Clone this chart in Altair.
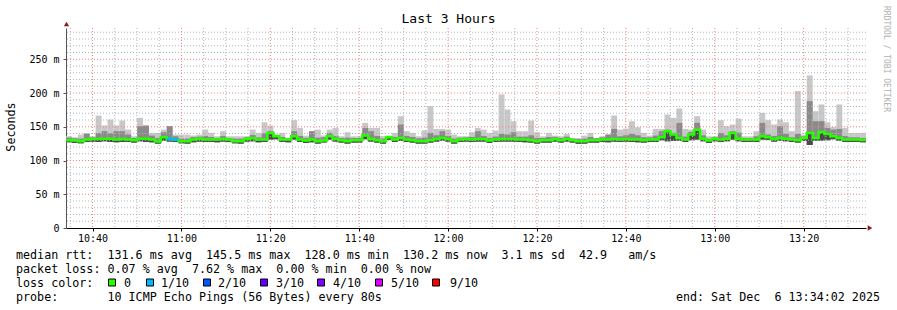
import altair as alt
import pandas as pd

# ---------------- data (ms), one value per 80 s step ----------------
START = 634 + 2 / 60          # 10:34:02 as minutes of day
SPAN = 180                    # 3 hours
STEP = 80 / 60                # 80 s

median = [
    130.0, 129.5, 128.5, 131.0, 131.9, 131.9, 132.4, 132.4, 131.0, 131.9,
    131.0, 130.0, 132.4, 132.4, 131.0, 128.0, 134.4, 131.9, 131.0, 128.5,
    128.5, 131.0, 132.4, 131.0, 131.0, 131.0, 131.9, 131.0, 128.5, 128.5,
    131.9, 132.9, 131.0, 131.0, 140.9, 135.9, 131.0, 131.0, 135.9, 131.0,
    129.5, 131.0, 128.5, 129.5, 135.9, 131.9, 130.0, 128.5, 130.0, 130.0,
    136.9, 131.9, 130.0, 128.5, 134.4, 131.0, 133.4, 131.0, 130.0, 128.5,
    128.5, 130.0, 131.9, 133.4, 131.9, 128.5, 131.0, 131.9, 131.0, 131.9,
    131.9, 129.5, 131.0, 131.9, 131.9, 131.9, 131.0, 131.0, 130.0, 128.5,
    130.0, 130.0, 131.9, 130.0, 131.9, 130.0, 128.5, 128.5, 130.0, 130.0,
    131.0, 131.0, 131.9, 131.0, 131.9, 131.0, 131.0, 130.0, 131.0, 131.0,
    134.4, 143.4, 138.4, 133.4, 131.0, 138.4, 145.5, 132.4, 129.5, 132.4,
    131.0, 132.4, 140.9, 132.4, 131.0, 131.0, 131.0, 135.9, 134.4, 131.9,
    133.4, 132.4, 131.0, 130.0, 133.4, 140.9, 133.4, 142.4, 139.4, 135.9,
    133.4, 131.0, 131.0, 131.0, 130.2]

ping_max = [
    135.9, 134.4, 138.4, 139.9, 135.9, 166.7, 151.8, 160.7, 151.8, 159.2,
    145.8, 135.9, 163.2, 151.8, 140.9, 140.9, 145.8, 150.8, 138.4, 138.4,
    138.4, 136.9, 138.4, 145.8, 140.9, 135.9, 143.4, 135.9, 135.9, 135.9,
    135.9, 145.8, 140.9, 156.7, 151.8, 138.4, 140.9, 133.4, 159.7, 148.3,
    136.9, 143.4, 145.8, 136.9, 145.8, 148.3, 135.9, 141.9, 135.9, 135.9,
    155.8, 148.3, 148.3, 135.9, 136.9, 140.9, 165.7, 143.4, 140.9, 135.9,
    144.8, 180.6, 146.8, 146.8, 145.8, 138.4, 135.9, 135.9, 141.9, 148.3,
    145.8, 140.9, 144.3, 197.9, 175.6, 158.2, 143.4, 143.4, 159.2, 141.9,
    135.9, 140.9, 136.9, 135.9, 139.4, 133.4, 133.4, 136.9, 140.9, 133.4,
    135.9, 138.4, 166.7, 145.8, 147.3, 158.2, 149.3, 140.9, 136.9, 146.8,
    146.8, 168.2, 163.2, 177.1, 146.8, 145.8, 165.7, 145.8, 135.9, 135.9,
    159.7, 150.8, 153.3, 162.2, 135.9, 135.9, 143.4, 170.6, 159.7, 153.3,
    160.7, 156.7, 143.4, 202.9, 138.4, 226.2, 173.1, 183.0, 156.7, 149.8,
    183.0, 148.3, 140.9, 140.9, 140.9]

ping_upper = [
    133.9, 132.9, 132.4, 139.9, 134.4, 140.9, 143.4, 140.4, 143.4, 143.4,
    138.4, 133.4, 150.8, 151.8, 136.9, 133.4, 141.9, 150.8, 135.9, 132.4,
    132.4, 134.9, 135.4, 136.4, 134.9, 133.4, 136.4, 133.4, 132.4, 132.4,
    134.4, 137.9, 134.4, 140.4, 143.4, 137.4, 134.9, 132.4, 143.4, 136.4,
    133.4, 143.4, 133.9, 134.4, 140.9, 136.4, 133.4, 133.9, 133.4, 133.4,
    148.3, 143.4, 136.4, 132.4, 136.4, 134.9, 153.3, 136.4, 134.9, 132.9,
    133.9, 140.9, 137.4, 143.4, 136.4, 132.4, 133.9, 134.4, 134.9, 143.4,
    136.4, 133.4, 135.4, 139.4, 138.4, 141.9, 135.4, 135.4, 137.4, 133.4,
    133.4, 134.9, 134.9, 133.4, 135.4, 132.4, 131.9, 132.4, 134.9, 132.9,
    134.4, 138.4, 146.8, 135.9, 137.4, 139.4, 137.4, 134.4, 134.4, 136.9,
    143.4, 145.8, 140.9, 155.8, 135.4, 142.4, 155.8, 137.4, 132.4, 134.4,
    140.9, 137.4, 143.4, 141.4, 133.4, 133.4, 135.9, 155.8, 138.4, 136.4,
    150.8, 139.4, 134.4, 139.4, 135.9, 188.0, 158.2, 158.2, 148.0, 145.8,
    146.8, 136.4, 134.4, 134.4, 133.4]

ping_min = [
    127.0, 126.0, 125.5, 127.5, 128.0, 127.5, 128.5, 127.5, 127.0, 127.5,
    127.5, 126.5, 128.5, 127.5, 127.0, 125.0, 129.5, 128.0, 127.5, 125.5,
    125.0, 127.0, 128.0, 127.5, 127.5, 127.0, 128.0, 127.5, 125.5, 125.0,
    128.0, 128.5, 127.0, 127.5, 131.0, 131.5, 127.5, 127.0, 131.0, 127.5,
    126.0, 127.0, 125.0, 126.5, 131.0, 128.0, 126.5, 125.0, 126.5, 126.5,
    131.5, 128.0, 126.5, 125.0, 130.5, 127.5, 129.0, 127.5, 126.5, 125.0,
    125.0, 126.5, 128.0, 129.5, 128.0, 125.0, 127.5, 128.0, 127.5, 128.0,
    128.0, 126.0, 127.5, 128.0, 128.0, 128.0, 127.5, 127.0, 126.5, 125.0,
    126.5, 126.5, 128.0, 126.5, 128.0, 126.5, 125.0, 125.0, 126.5, 126.5,
    127.5, 127.0, 128.0, 127.5, 128.0, 127.5, 127.0, 126.5, 127.5, 127.5,
    130.0, 128.5, 129.0, 129.5, 127.5, 130.0, 131.0, 128.5, 126.0, 128.5,
    127.5, 128.5, 131.0, 128.5, 127.5, 127.5, 127.5, 131.0, 130.5, 128.0,
    129.5, 128.5, 127.5, 126.5, 129.0, 123.0, 129.5, 129.5, 130.0, 131.5,
    129.5, 127.5, 127.5, 127.5, 127.0]

loss_steps = [17, 18]          # steps with 1/10 packet loss

legend_labels = ["0", "1/10", "2/10", "3/10", "4/10", "5/10", "9/10"]
legend_colors = ["#26ff00", "#00b8ff", "#0059ff", "#5e00ff", "#7e00ff", "#dd00ff", "#ff0000"]

y_ticks = [0, 50, 100, 150, 200, 250]
y_minor = [v for v in range(10, 300, 10) if v % 50]
y_major = [50, 100, 150, 200, 250]
x_major = [640, 660, 680, 700, 720, 740, 760, 780, 800]
x_minor = [v for v in range(635, 815, 5) if v % 20]

# ---------------- layout ----------------
W, H = 800, 200
PADL, PADT = 66, 28
FONT = "DejaVu Sans Mono"
Y_DOMAIN = [0, 296.3]
X_DOMAIN = [START, START + SPAN]

n = len(median)
df = pd.DataFrame({
    "t0": [START + i * STEP for i in range(n)],
    "t1": [START + (i + 1) * STEP for i in range(n)],
    "med": median, "mx": ping_max, "up": ping_upper, "mn": ping_min,
})
line_df = pd.DataFrame({"t": list(df["t0"]) + [START + n * STEP],
                        "med": median + [median[-1]]})
blue_df = pd.DataFrame({
    "t": [START + i * STEP for i in loss_steps] + [START + (loss_steps[-1] + 1) * STEP],
    "med": [median[i] for i in loss_steps] + [median[loss_steps[-1]]],
})

xs = alt.Scale(domain=X_DOMAIN, nice=False, zero=False)
ys = alt.Scale(domain=Y_DOMAIN, nice=False, zero=False)

x_axis = alt.Axis(values=x_major, title=None, grid=False,
                  labelExpr="floor(datum.value/60) + ':' + (datum.value % 60 < 10 ? '0' : '') + (datum.value % 60)",
                  labelFont=FONT, labelFontSize=10, labelColor="#000000",
                  domainColor="#000000", tickColor="#000000", tickSize=3, labelPadding=2,
                  labelFlush=False, labelOverlap=False)
y_axis = alt.Axis(values=y_ticks, title=None, grid=False,
                  labelExpr="datum.value == 0 ? '0' : datum.value + ' m'",
                  labelFont=FONT, labelFontSize=10, labelColor="#000000",
                  domainColor="#555555", tickColor="#555555", tickSize=3, labelPadding=4,
                  labelFlush=False, labelOverlap=False)


def X(field):
    return alt.X(field, type="quantitative", scale=xs, axis=x_axis)


def Y(field):
    return alt.Y(field, type="quantitative", scale=ys, axis=y_axis)


base = alt.Chart(df)
light = base.mark_rect(color="#c8c8c8").encode(x=X("t0"), x2="t1", y=Y("mn"), y2="mx")
mid = base.mark_rect(color="#8a8a8a").encode(x=X("t0"), x2="t1", y=Y("mn"), y2="up")
dark = base.mark_rect(color="#4a4a4a").encode(x=X("t0"), x2="t1", y=Y("mn"), y2="med")


def hrules(vals, color):
    return alt.Chart(pd.DataFrame({"v": vals})).mark_rule(
        color=color, strokeDash=[1, 2], strokeWidth=1).encode(y=Y("v"))


def vrules(vals, color):
    return alt.Chart(pd.DataFrame({"v": vals})).mark_rule(
        color=color, strokeDash=[1, 2], strokeWidth=1).encode(x=X("v"))


grid = [hrules(y_minor, "#b4b4b4"), vrules(x_minor, "#b4b4b4"),
        hrules(y_major, "#f08080"), vrules(x_major, "#f08080")]

med_line = alt.Chart(line_df).mark_line(
    interpolate="step-after", color="#26ff00", strokeWidth=2.5).encode(x=X("t"), y=Y("med"))
blue_line = alt.Chart(blue_df).mark_line(
    interpolate="step-after", color="#00b8ff", strokeWidth=2.5).encode(x=X("t"), y=Y("med"))

one = pd.DataFrame({"a": [0]})


def txt(s, x, y, size=11.7, align="left", color="#000000", angle=0, baseline="middle"):
    kw = dict(font=FONT, fontSize=size, align=align, baseline=baseline, color=color)
    if angle:
        kw["angle"] = angle
    return alt.Chart(one).mark_text(text=s.replace(" ", "\u00a0"), **kw).encode(
        x=alt.value(x), y=alt.value(y))


texts = [
    txt("Last 3 Hours", 448.5 - PADL, 19 - PADT, size=13, align="center"),
    txt("Seconds", 11 - PADL, 127 - PADT, angle=270, align="center"),
    txt("RRDTOOL / TOBI OETIKER", 886 - PADL, 59 - PADT, size=8, angle=90,
        align="center", color="#b0b0b0"),
    txt("median rtt:  131.6 ms avg  145.5 ms max  128.0 ms min  130.2 ms now  3.1 ms sd  42.9   am/s",
        16 - PADL, 254.5 - PADT),
    txt("packet loss: 0.07 % avg  7.62 % max  0.00 % min  0.00 % now", 16 - PADL, 268.5 - PADT),
    txt("loss color:", 16 - PADL, 282.5 - PADT),
    txt("probe:       10 ICMP Echo Pings (56 Bytes) every 80s", 16 - PADL, 296.5 - PADT),
    txt("end: Sat Dec  6 13:34:02 2025", 880 - PADL, 296.5 - PADT, align="right"),
]

box_x = [112, 150, 207, 264, 321, 379, 436]
lab_x = [124, 161, 218, 276, 333, 391, 450]
legend = []
for lab, col, bx, lx in zip(legend_labels, legend_colors, box_x, lab_x):
    legend.append(alt.Chart(one).mark_square(size=49, filled=True, color=col,
                                             stroke="#000000", strokeWidth=1, opacity=1).encode(
        x=alt.value(bx - PADL), y=alt.value(282.5 - PADT)))
    legend.append(txt(lab, lx - PADL, 282.5 - PADT))

arrows = [
    alt.Chart(one).mark_point(shape="triangle-up", filled=True, color="#8b1a1a",
                              size=28, opacity=1).encode(x=alt.value(0.5), y=alt.value(-4)),
    alt.Chart(one).mark_point(shape="triangle-right", filled=True, color="#8b1a1a",
                              size=28, opacity=1).encode(x=alt.value(W + 4), y=alt.value(H)),
]

chart = alt.layer(light, mid, dark, *grid, med_line, blue_line, *texts, *legend, *arrows).properties(
    width=W, height=H,
    autosize=alt.AutoSizeParams(type="none"),
    padding={"left": PADL, "top": PADT, "right": 897 - PADL - W, "bottom": 310 - PADT - H},
    background="#ffffff",
).configure_view(stroke=None)

chart.save("out.html", embed_options={"renderer": "svg", "actions": False})
